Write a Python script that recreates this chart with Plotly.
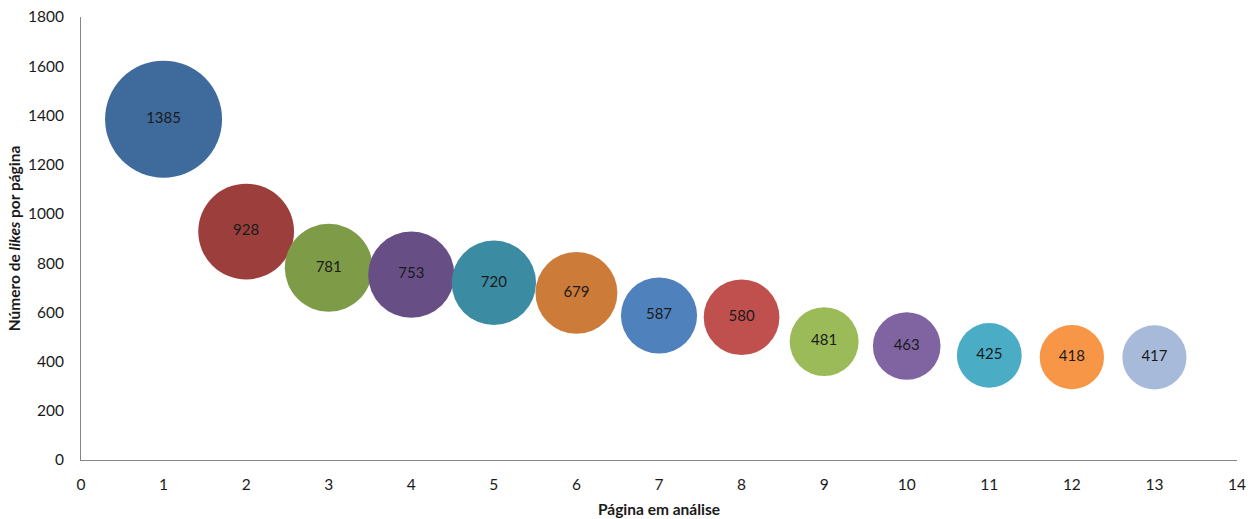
import plotly.graph_objects as go

pages = list(range(1, 14))
likes = [1385, 928, 781, 753, 720, 679, 587, 580, 481, 463, 425, 418, 417]
colors = ["#3F6A9C", "#9C3F3C", "#7E9B48", "#674F86", "#3B8CA2", "#CD7B39",
          "#4F81BD", "#C0504D", "#9BBB59", "#8064A2", "#4BACC6", "#F79646", "#A8BADA"]

FONT = "Lato, 'Open Sans', sans-serif"
max_diam = 117
sizeref = 2.0 * max(likes) / (max_diam ** 2)

fig = go.Figure(go.Scatter(
    x=pages, y=likes, mode="markers+text",
    text=[str(v) for v in likes], textposition="middle center",
    textfont=dict(family=FONT, size=15, color="#1a1a1a"),
    marker=dict(size=likes, sizemode="area", sizeref=sizeref, color=colors,
                opacity=1, line=dict(width=0)),
    hoverinfo="x+y",
))

axis_common = dict(showgrid=False, zeroline=False, showline=True, linecolor="#868686",
                   linewidth=1, ticks="", automargin=False,
                   tickfont=dict(family=FONT, size=15.5, color="#1a1a1a"))

fig.update_layout(
    width=1256, height=519,
    margin=dict(l=81, r=19, t=17, b=59),
    paper_bgcolor="white", plot_bgcolor="white",
    showlegend=False,
    xaxis=dict(range=[0, 14], dtick=1, tick0=0, ticklabelstandoff=10,
               title=dict(text="<b>Página em análise</b>", font=dict(family=FONT, size=15.5, color="#1a1a1a"), standoff=12),
               **axis_common),
    yaxis=dict(range=[0, 1800], dtick=200, tick0=0, ticklabelstandoff=13,
               title=dict(text="<b>Número de <i>likes</i> por página</b>", font=dict(family=FONT, size=15.5, color="#1a1a1a"), standoff=3),
               **axis_common),
)

fig.write_html("out.html")
